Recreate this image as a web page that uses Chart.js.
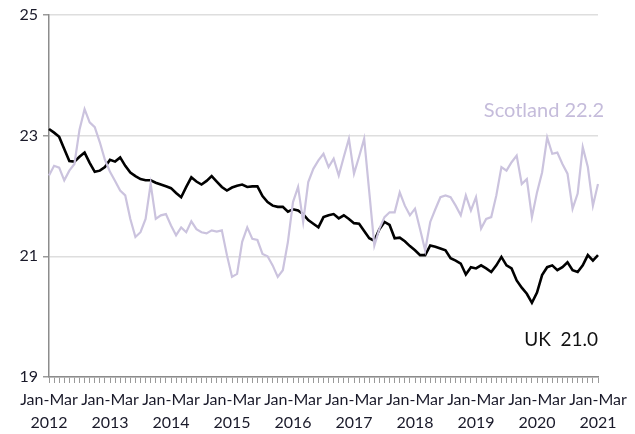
<!DOCTYPE html>
<html>
<head>
<meta charset="utf-8">
<script src="https://cdn.jsdelivr.net/npm/chart.js@4"></script>
<style>
  html, body { margin: 0; padding: 0; background: #fff; }
  #wrap { width: 635px; height: 434px; }
</style>
</head>
<body>
<div id="wrap"><canvas id="ratesChart" width="635" height="434"></canvas></div>
<script>
// Years shown on the axis, one rolling quarter per month from Jan-Mar 2012
const years = [2012, 2013, 2014, 2015, 2016, 2017, 2018, 2019, 2020, 2021];
const periodCount = 109;

const ukValues = [
  23.11, 23.05, 22.98, 22.78, 22.58, 22.57, 22.65, 22.72, 22.55, 22.40, 22.42, 22.48,
  22.60, 22.57, 22.64, 22.50, 22.39, 22.33, 22.28, 22.26, 22.26, 22.22, 22.19, 22.16,
  22.13, 22.05, 21.98, 22.15, 22.31, 22.24, 22.19, 22.25, 22.33, 22.24, 22.15, 22.09,
  22.14, 22.17, 22.19, 22.15, 22.16, 22.16, 22.00, 21.90, 21.84, 21.82, 21.82, 21.74,
  21.78, 21.76, 21.70, 21.60, 21.54, 21.48, 21.65, 21.68, 21.70, 21.63, 21.68, 21.62,
  21.55, 21.54, 21.42, 21.30, 21.26, 21.45, 21.57, 21.52, 21.30, 21.31, 21.25, 21.17,
  21.10, 21.02, 21.02, 21.18, 21.16, 21.13, 21.10, 20.97, 20.93, 20.88, 20.70, 20.82,
  20.80, 20.85, 20.80, 20.74, 20.85, 20.99, 20.85, 20.80, 20.60, 20.48, 20.38, 20.23,
  20.40, 20.69, 20.82, 20.85, 20.77, 20.82, 20.90, 20.77, 20.74, 20.85, 21.02, 20.93,
  21.02
];

const scotlandValues = [
  22.34, 22.50, 22.47, 22.26, 22.42, 22.53, 23.10, 23.44, 23.22, 23.14, 22.89, 22.60,
  22.40, 22.25, 22.09, 22.01, 21.62, 21.32, 21.40, 21.62, 22.20, 21.62, 21.68, 21.70,
  21.51, 21.35, 21.48, 21.40, 21.58, 21.45, 21.40, 21.38, 21.43, 21.41, 21.43, 21.02,
  20.66, 20.71, 21.24, 21.48, 21.29, 21.27, 21.04, 21.00, 20.85, 20.66, 20.77, 21.24,
  21.90, 22.15, 21.57, 22.23, 22.45, 22.59, 22.70, 22.48, 22.62, 22.34, 22.65, 22.95,
  22.37, 22.65, 22.95, 22.07, 21.18, 21.46, 21.65, 21.73, 21.73, 22.06, 21.84, 21.68,
  21.79, 21.45, 21.10, 21.57, 21.78, 21.98, 22.01, 21.98, 21.84, 21.68, 22.01, 21.76,
  21.98, 21.46, 21.62, 21.65, 22.01, 22.48, 22.42, 22.56, 22.67, 22.20, 22.28, 21.65,
  22.06, 22.39, 22.97, 22.70, 22.72, 22.53, 22.37, 21.79, 22.04, 22.81, 22.48, 21.84,
  22.20
];

const yTicks = [19, 21, 23, 25];

// series end labels
const scotlandLabel = 'Scotland 22.2';
const ukLabel = 'UK  21.0';

// build month labels: only Jan-Mar of each year gets text
const labels = [];
for (let i = 0; i < periodCount; i++) {
  if (i % 12 === 0) {
    labels.push(['Jan-Mar', String(years[i / 12])]);
  } else {
    labels.push('');
  }
}

const FONT = 'Lato, "Open Sans", sans-serif';

const endLabels = {
  id: 'endLabels',
  afterDatasetsDraw(chart) {
    const ctx = chart.ctx;
    const x = chart.scales.x;
    const y = chart.scales.y;
    const right = x.getPixelForValue(periodCount - 1);
    ctx.save();
    ctx.textAlign = 'right';
    ctx.textBaseline = 'middle';
    ctx.font = '20px ' + FONT;
    ctx.fillStyle = '#c5bcdb';
    ctx.fillText(scotlandLabel, right + 6, y.getPixelForValue(23.42));
    ctx.font = '19px ' + FONT;
    ctx.fillStyle = '#111';
    ctx.fillText(ukLabel, right, y.getPixelForValue(19.62));
    ctx.restore();
  }
};

const ctx = document.getElementById('ratesChart').getContext('2d');
new Chart(ctx, {
  type: 'line',
  data: {
    labels: labels,
    datasets: [
      {
        label: 'Scotland',
        data: scotlandValues,
        borderColor: '#cbc3de',
        borderWidth: 2.2,
        pointRadius: 0,
        tension: 0
      },
      {
        label: 'UK',
        data: ukValues,
        borderColor: '#000',
        borderWidth: 2.6,
        pointRadius: 0,
        tension: 0
      }
    ]
  },
  options: {
    responsive: false,
    animation: false,
    layout: { padding: { top: 15, right: 37, left: 0, bottom: 0 } },
    plugins: {
      legend: { display: false },
      tooltip: { enabled: false }
    },
    scales: {
      x: {
        offset: false,
        grid: {
          drawOnChartArea: false,
          tickLength: 6,
          tickColor: '#9a9a9a'
        },
        border: { color: '#8c8c8c', width: 1.5 },
        ticks: {
          autoSkip: false,
          maxRotation: 0,
          padding: 5,
          color: '#1a1a2a',
          font: { family: FONT, size: 16, lineHeight: 1.45 }
        },
        afterFit(scale) { scale.height = 57; }
      },
      y: {
        min: 19,
        max: 25,
        afterBuildTicks(scale) {
          scale.ticks = yTicks.map(v => ({ value: v }));
        },
        grid: {
          color: '#dedede',
          lineWidth: 1.5,
          tickLength: 6,
          tickColor: '#9a9a9a'
        },
        border: { color: '#8c8c8c', width: 1.5 },
        ticks: {
          padding: 5,
          color: '#1a1a2a',
          font: { family: FONT, size: 16 }
        },
        afterFit(scale) { scale.width = 49; }
      }
    }
  },
  plugins: [endLabels]
});
</script>
</body>
</html>
